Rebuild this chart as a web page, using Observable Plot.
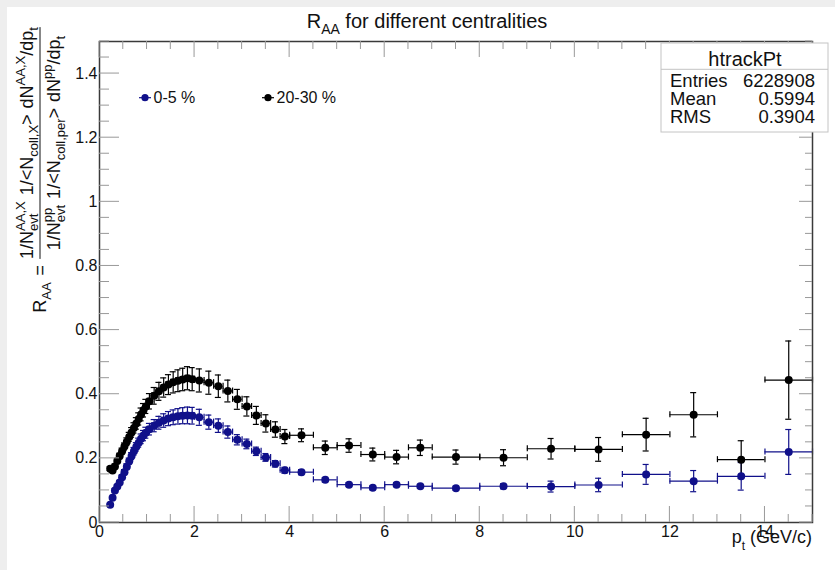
<!DOCTYPE html>
<html><head><meta charset="utf-8">
<script src="https://cdn.jsdelivr.net/npm/d3@7"></script>
<script src="https://cdn.jsdelivr.net/npm/@observablehq/plot@0.6"></script>
<style>
html,body{margin:0;padding:0;background:#fff;}
#wrap{position:relative;width:835px;height:570px;overflow:hidden;background:#fff;}
#wrap svg{position:absolute;left:0;top:0;}
.band{position:absolute;background:#eeeeee;z-index:5;}
</style></head><body><div id="wrap"><div class="band" style="left:0;top:0;width:835px;height:7px"></div><div class="band" style="left:0;top:0;width:7px;height:570px"></div></div>
<script>
// ---- data ----
const binEdges = [0.2,0.25,0.3,0.35,0.4,0.45,0.5,0.55,0.6,0.65,0.7,0.75,0.8,0.85,0.9,0.95,1.0,
  1.1,1.2,1.3,1.4,1.5,1.6,1.7,1.8,1.9,2.0,
  2.2,2.4,2.6,2.8,3.0,3.2,3.4,3.6,3.8,4.0,
  4.5,5.0,5.5,6.0,6.5,7,8,9,10,11,12,13,14,15];
const seriesNames = ["0-5 %", "20-30 %"];
const seriesColors = ["#10108a", "#000000"];
const raaCentral = [0.055,0.077,0.100,0.112,0.125,0.141,0.157,0.174,0.191,0.207,0.222,0.236,0.249,0.261,0.271,0.280,
  0.291,0.302,0.311,0.318,0.324,0.328,0.331,0.333,0.334,0.333,
  0.328,0.313,0.302,0.282,0.258,0.245,0.222,0.203,0.183,0.163,
  0.157,0.133,0.118,0.108,0.118,0.113,
  0.107,0.113,0.112,0.117,0.150,0.129,0.144,0.220];
const errCentral = [0.003,0.004,0.005,0.005,0.006,0.007,0.008,0.009,0.010,0.011,0.012,0.013,0.014,0.015,0.016,0.017,
  0.018,0.019,0.020,0.021,0.022,0.023,0.024,0.025,0.026,0.026,
  0.025,0.022,0.021,0.019,0.016,0.015,0.013,0.012,0.010,0.009,
  0.008,0.007,0.006,0.006,0.006,0.006,
  0.006,0.008,0.017,0.021,0.031,0.033,0.043,0.070];
const raaPeripheral = [0.168,0.162,0.175,0.192,0.207,0.222,0.237,0.252,0.267,0.281,0.295,0.309,0.323,0.337,0.350,0.362,
  0.378,0.395,0.409,0.421,0.430,0.437,0.442,0.446,0.450,0.447,
  0.443,0.436,0.425,0.410,0.384,0.362,0.334,0.309,0.290,0.268,
  0.272,0.233,0.240,0.212,0.204,0.233,
  0.204,0.202,0.230,0.228,0.274,0.336,0.196,0.444];
const errPeripheral = [0.006,0.006,0.007,0.008,0.009,0.010,0.011,0.012,0.014,0.015,0.016,0.018,0.019,0.020,0.021,0.022,
  0.024,0.026,0.028,0.030,0.031,0.033,0.034,0.035,0.036,0.036,
  0.036,0.036,0.035,0.034,0.031,0.030,0.028,0.027,0.024,0.022,
  0.020,0.021,0.021,0.020,0.021,0.024,
  0.022,0.025,0.032,0.037,0.051,0.069,0.059,0.122];
const xMajorTicks = [0,2,4,6,8,10,12,14];
const xTickLabels = ["0","2","4","6","8","10","12","14"];
const xMinorTicks = [0.5,1,1.5,2.5,3,3.5,4.5,5,5.5,6.5,7,7.5,8.5,9,9.5,10.5,11,11.5,12.5,13,13.5,14.5,15];
const yMajorTicks = [0,0.2,0.4,0.6,0.8,1,1.2,1.4];
const yTickLabels = ["0","0.2","0.4","0.6","0.8","1","1.2","1.4"];
const yMinorTicks = [0.05,0.1,0.15,0.25,0.3,0.35,0.45,0.5,0.55,0.65,0.7,0.75,0.85,0.9,0.95,1.05,1.1,1.15,1.25,1.3,1.35,1.45,1.5];
const titleMain = "R", titleSub = "AA", titleRest = " for different centralities";
const xTitleMain = "p", xTitleSub = "t", xTitleRest = " (GeV/c)";
const statsName = "htrackPt";
const statsLabels = ["Entries", "Mean", "RMS"];
const statsValues = ["6228908", "0.5994", "0.3904"];

// ---- table ----
const values = [raaCentral, raaPeripheral];
const errors = [errCentral, errPeripheral];
const rows = [];
values.forEach((vals, s) => vals.forEach((v, i) => rows.push({
  series: seriesNames[s],
  x: (binEdges[i] + binEdges[i + 1]) / 2,
  xlo: binEdges[i], xhi: binEdges[i + 1],
  y: v, lo: v - errors[s][i], hi: v + errors[s][i]
})));

const FONT = "'Liberation Sans', Arial, Helvetica, sans-serif";
const W = 835, H = 570;
const chart = Plot.plot({
  width: W, height: H,
  marginLeft: 99, marginRight: 23, marginTop: 41, marginBottom: 48,
  style: {fontFamily: FONT, fontSize: "16px", color: "#111", background: "transparent", overflow: "visible"},
  x: {domain: [0, 15]},
  y: {domain: [0, 1.5]},
  color: {domain: seriesNames, range: seriesColors},
  marks: [
    Plot.axisX(xMajorTicks, {tickSize: 0, tickPadding: 3.5, fontSize: 16, label: null,
      tickFormat: d => xTickLabels[xMajorTicks.indexOf(d)]}),
    Plot.axisY(yMajorTicks, {tickSize: 0, tickPadding: 2, fontSize: 16, label: null,
      tickFormat: d => yTickLabels[yMajorTicks.indexOf(d)]}),
    Plot.ruleY(rows, {y: "y", x1: "xlo", x2: "xhi", stroke: "series", strokeWidth: 1.2}),
    Plot.ruleX(rows, {x: "xlo", y1: "y", y2: "y", insetTop: -3, insetBottom: -3, stroke: "series", strokeWidth: 1.2}),
    Plot.ruleX(rows, {x: "xhi", y1: "y", y2: "y", insetTop: -3, insetBottom: -3, stroke: "series", strokeWidth: 1.2}),
    Plot.ruleX(rows, {x: "x", y1: "lo", y2: "hi", stroke: "series", strokeWidth: 1.2}),
    Plot.ruleY(rows, {y: "lo", x1: "x", x2: "x", insetLeft: -3, insetRight: -3, stroke: "series", strokeWidth: 1.2}),
    Plot.ruleY(rows, {y: "hi", x1: "x", x2: "x", insetLeft: -3, insetRight: -3, stroke: "series", strokeWidth: 1.2}),
    Plot.dot(rows, {x: "x", y: "y", r: 4, fill: "series", stroke: null}),
    Plot.frame({stroke: "#3a3a3a", strokeWidth: 1.5})
  ]
});
document.getElementById("wrap").appendChild(chart);

// ---- ticks on all four sides, placed with Plot's scales ----
const sx = chart.scale("x"), sy = chart.scale("y");
const svg = d3.select(chart);
const x0 = sx.apply(0), x1 = sx.apply(15), y0 = sy.apply(0), y1 = sy.apply(1.5);
const tg = svg.append("g").attr("stroke", "#999").attr("stroke-width", 1);
function vt(list, len) {
  list.forEach(v => {
    const px = sx.apply(v);
    tg.append("line").attr("x1", px).attr("x2", px).attr("y1", y0).attr("y2", y0 - len);
    tg.append("line").attr("x1", px).attr("x2", px).attr("y1", y1).attr("y2", y1 + len);
  });
}
function ht(list, lenL, lenR) {
  list.forEach(v => {
    const py = sy.apply(v);
    tg.append("line").attr("x1", x0).attr("x2", x0 + lenL).attr("y1", py).attr("y2", py);
    tg.append("line").attr("x1", x1).attr("x2", x1 - lenR).attr("y1", py).attr("y2", py);
  });
}
vt(xMajorTicks, 16); vt(xMinorTicks, 8);
ht(yMajorTicks, 20, 13); ht(yMinorTicks, 10, 7);

// ---- title ----
const tt = svg.append("text").attr("x", 427).attr("y", 28).attr("text-anchor", "middle")
  .attr("font-family", FONT).attr("font-size", 20).attr("fill", "#111");
tt.append("tspan").text(titleMain);
tt.append("tspan").attr("font-size", 14).attr("dy", 6).text(titleSub);
tt.append("tspan").attr("dy", -6).text(titleRest);

// ---- x title ----
const xt = svg.append("text").attr("x", 812).attr("y", 543).attr("text-anchor", "end")
  .attr("font-family", FONT).attr("font-size", 18).attr("fill", "#111");
xt.append("tspan").text(xTitleMain);
xt.append("tspan").attr("font-size", 12).attr("dy", 7).text(xTitleSub);
xt.append("tspan").attr("dy", -7).text(xTitleRest);

// ---- y title (rotated TLatex-like fraction) ----
function rich(parent, segs, fs, sfs) {
  let x = 0, supStart = 0, supEnd = 0;
  segs.forEach(s => {
    if (s.gap) { x += s.gap; return; }
    const k = s.k || "n";
    const size = k === "n" ? fs : sfs;
    const dy = k === "sup" ? -0.42 * fs : k === "sub" ? 0.28 * fs : 0;
    const start = s.stack ? supStart : x;
    const t = parent.append("text").attr("x", start).attr("y", dy).attr("font-size", size)
      .attr("text-anchor", "start").text(s.t);
    const w = t.node().getComputedTextLength();
    if (k === "sup") { supStart = start; supEnd = start + w; }
    x = s.stack ? Math.max(supEnd, start + w) : start + w;
  });
  return x;
}
const yl = svg.append("g").attr("transform", "translate(40,143) rotate(-90)")
  .attr("font-family", FONT).attr("fill", "#111").attr("text-anchor", "start");
const numG = yl.append("g");
const numW = rich(numG, [{t: "1/N"}, {t: "AA,X", k: "sup"}, {t: "evt", k: "sub", stack: true}, {gap: 6},
  {t: "1/<N"}, {t: "coll,X", k: "sub"}, {t: ">"}, {gap: 6}, {t: "dN"}, {t: "AA,X", k: "sup"}, {t: "/dp"}, {t: "t", k: "sub"}], 18, 13);
numG.attr("transform", `translate(${-numW / 2},-7)`);
const denG = yl.append("g");
const denW = rich(denG, [{t: "1/N"}, {t: "pp", k: "sup"}, {t: "evt", k: "sub", stack: true}, {gap: 6},
  {t: "1/<N"}, {t: "coll,per", k: "sub"}, {t: ">"}, {gap: 6}, {t: "dN"}, {t: "pp", k: "sup"}, {t: "/dp"}, {t: "t", k: "sub"}], 18, 13);
denG.attr("transform", `translate(${-denW / 2},20)`);
const fw = Math.max(numW, denW);
yl.append("line").attr("x1", -fw / 2).attr("x2", fw / 2).attr("y1", 0).attr("y2", 0).attr("stroke", "#111").attr("stroke-width", 1);
const rG = yl.append("g");
const rW = rich(rG, [{t: "R"}, {t: "AA", k: "sub"}, {gap: 7}, {t: "="}], 18, 13);
rG.attr("transform", `translate(${-fw / 2 - 6 - rW},6)`);

// ---- legend ----
const legX = [145, 268];
seriesNames.forEach((name, i) => {
  const g = svg.append("g");
  g.append("line").attr("x1", legX[i] - 6).attr("x2", legX[i] + 6).attr("y1", 97.7).attr("y2", 97.7)
    .attr("stroke", seriesColors[i]).attr("stroke-width", 1.2);
  g.append("circle").attr("cx", legX[i]).attr("cy", 97.7).attr("r", 3.6).attr("fill", seriesColors[i]);
  g.append("text").attr("x", legX[i] + 8.5).attr("y", 103.4).attr("font-family", FONT).attr("font-size", 16)
    .attr("text-anchor", "start").attr("fill", "#111").text(name);
});

// ---- stats box ----
const sb = svg.append("g").attr("font-family", FONT).attr("fill", "#111");
sb.append("rect").attr("x", 661).attr("y", 43).attr("width", 167).attr("height", 89)
  .attr("fill", "#fff").attr("stroke", "#c4c4c4").attr("stroke-width", 1);
sb.append("line").attr("x1", 661).attr("x2", 828).attr("y1", 69.3).attr("y2", 69.3).attr("stroke", "#c4c4c4");
sb.append("text").attr("x", 745).attr("y", 66).attr("text-anchor", "middle").attr("font-size", 20).text(statsName);
statsLabels.forEach((lab, i) => {
  const y = 87 + i * 17.8;
  sb.append("text").attr("x", 670).attr("y", y).attr("text-anchor", "start").attr("font-size", 18.5).text(lab);
  sb.append("text").attr("x", 815).attr("y", y).attr("text-anchor", "end").attr("font-size", 18.5).text(statsValues[i]);
});
</script></body></html>
